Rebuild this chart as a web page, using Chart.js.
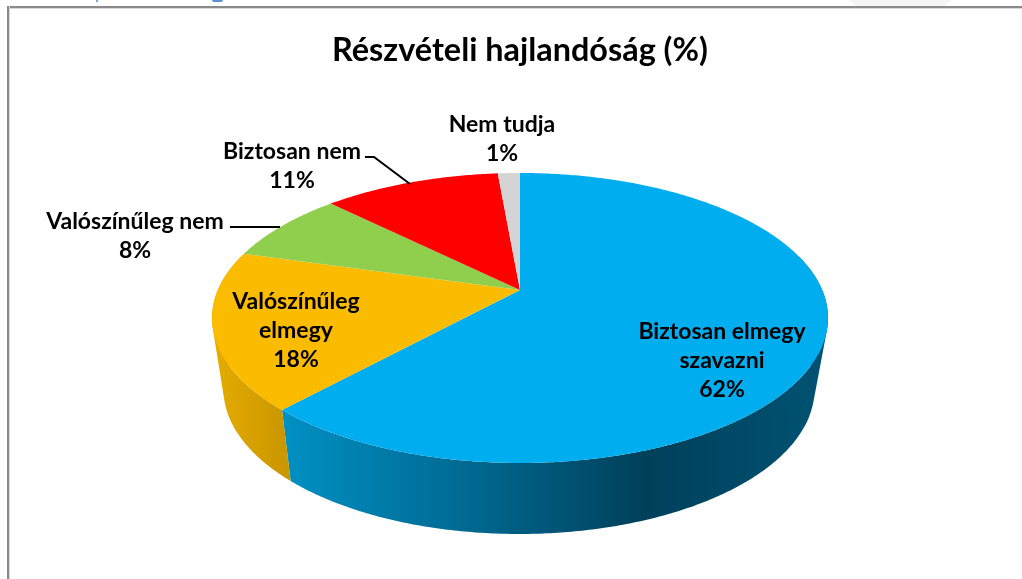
<!DOCTYPE html>
<html lang="hu">
<head>
<meta charset="utf-8">
<title>Részvételi hajlandóság (%)</title>
<script src="https://cdn.jsdelivr.net/npm/chart.js@4"></script>
<style>
html,body{margin:0;padding:0;background:#fff;overflow:hidden}
#wrap{position:relative;width:1022px;height:579px}
#frameTop{position:absolute;left:7px;top:6px;width:1015px;height:2px;background:#8a8a8a;box-shadow:0 1px 0 #d8d8d8}
#frameLeft{position:absolute;left:7px;top:6px;width:2px;height:573px;background:#8a8a8a;box-shadow:1px 0 0 #d8d8d8}
#shade{position:absolute;left:848px;top:0;width:104px;height:6px;background:#f4f4f4;clip-path:polygon(0 0,100% 0,92% 100%,8% 100%)}
#mark1{position:absolute;left:96px;top:0;width:2px;height:2px;background:#7aa7d8}
#mark2{position:absolute;left:212px;top:0;width:11px;height:2px;background:#5b93d0;border-radius:0 0 5px 5px}
canvas{position:absolute;left:0;top:0}
</style>
</head>
<body>
<div id="wrap">
<canvas id="c" width="1022" height="579"></canvas>
<div id="shade"></div><div id="mark1"></div><div id="mark2"></div>
<div id="frameTop"></div><div id="frameLeft"></div>
</div>
<script>
const chartTitle = "Részvételi hajlandóság (%)";
const categories = ["Biztosan elmegy szavazni", "Valószínűleg elmegy", "Valószínűleg nem", "Biztosan nem", "Nem tudja"];
const values = [61.8, 17.6, 8.0, 11.2, 1.4];
const sliceColors = ["#00AEEF", "#FBBC00", "#90CF4E", "#FF0000", "#D4D4D4"];
const categoryLines = [["Biztosan elmegy", "szavazni"], ["Valószínűleg", "elmegy"], ["Valószínűleg nem"], ["Biztosan nem"], ["Nem tudja"]];

const FONT = '"Lato","Carlito","Open Sans",sans-serif';
const labelCentres = [[722, 332], [296, 302], [135, 222], [292, 152], [502, 125]];
const LINE_STEP = 29;
const leaders = [null, null, [[230, 227], [280, 227]], [[365, 157], [374, 157], [410, 184]], null];

const topFace = {cx: 520, cy: 290, A: 302.2, B: 139.6, k: 0.193};
const baseFace = {cx: 519, cy: 361, A: 290, B: 139.6, k: 0.193};
const wallStops = [
  [{x: 284, c: "#0090C4"}, {x: 450, c: "#006D96"}, {x: 645, c: "#00405A"}, {x: 820, c: "#005272"}],
  [{x: 212, c: "#E6AC00"}, {x: 289, c: "#C99600"}]
];

function project(f, a) {
  const u = Math.cos(a), v = Math.sin(a), w = 1 - f.k * v;
  return [f.cx + f.A * u / w, f.cy + f.B * v / w];
}
function gradient(ctx, stops) {
  const x0 = stops[0].x, x1 = stops[stops.length - 1].x;
  const g = ctx.createLinearGradient(x0, 0, x1, 0);
  stops.forEach(s => g.addColorStop((s.x - x0) / (x1 - x0), s.c));
  return g;
}
function signedArea(p) {
  let a = 0;
  p.forEach((q, i) => { const r = p[(i + 1) % p.length]; a += q[0] * r[1] - r[0] * q[1]; });
  return a;
}
const pie3d = {
  id: "pie3d",
  beforeDatasetsDraw(chart) {
    const ctx = chart.ctx, arcs = chart.getDatasetMeta(0).data;
    ctx.save();
    arcs.forEach((arc, i) => {
      const {startAngle: s, endAngle: e} = arc.getProps(["startAngle", "endAngle"], true);
      if (!wallStops[i]) return;
      ctx.fillStyle = gradient(ctx, wallStops[i]);
      const n = Math.ceil((e - s) / 0.01);
      ctx.beginPath();
      for (let j = 0; j < n; j++) {
        const a0 = s + (e - s) * j / n, a1 = s + (e - s) * (j + 1) / n;
        if (Math.sin((a0 + a1) / 2) < -0.25) continue;
        let p = [project(topFace, a0), project(topFace, a1), project(baseFace, a1), project(baseFace, a0)];
        if (signedArea(p) < 0) p = p.reverse();
        ctx.moveTo(p[0][0], p[0][1]);
        p.slice(1).forEach(q => ctx.lineTo(q[0], q[1]));
        ctx.closePath();
      }
      ctx.fill("nonzero");
    });
    arcs.forEach((arc, i) => {
      const {startAngle: s, endAngle: e} = arc.getProps(["startAngle", "endAngle"], true);
      ctx.fillStyle = sliceColors[i];
      ctx.beginPath();
      ctx.moveTo(topFace.cx, topFace.cy);
      const n = Math.ceil((e - s) / 0.01);
      for (let j = 0; j <= n; j++) {
        const p = project(topFace, s + (e - s) * j / n);
        ctx.lineTo(p[0], p[1]);
      }
      ctx.closePath(); ctx.fill();
    });
    ctx.restore();
    return false;
  },
  afterDraw(chart) {
    const ctx = chart.ctx;
    ctx.save();
    ctx.strokeStyle = "#000"; ctx.lineWidth = 2;
    leaders.forEach(l => {
      if (!l) return;
      ctx.beginPath();
      l.forEach((p, j) => j ? ctx.lineTo(p[0], p[1]) : ctx.moveTo(p[0], p[1]));
      ctx.stroke();
    });
    ctx.fillStyle = "#000";
    ctx.font = "bold 23px " + FONT;
    ctx.textAlign = "center"; ctx.textBaseline = "middle";
    values.forEach((v, i) => {
      const lines = categoryLines[i].concat(Math.round(v) + "%");
      lines.forEach((t, j) => ctx.fillText(t, labelCentres[i][0], labelCentres[i][1] + j * LINE_STEP));
    });
    ctx.restore();
  }
};
new Chart(document.getElementById("c"), {
  type: "pie",
  data: {labels: categories, datasets: [{data: values, backgroundColor: sliceColors, borderWidth: 0}]},
  plugins: [pie3d],
  options: {
    responsive: false, animation: false,
    layout: {padding: {left: 18}},
    plugins: {
      legend: {display: false}, tooltip: {enabled: false},
      title: {display: true, text: chartTitle, color: "#000", align: "center",
        font: {family: FONT, size: 32.4, weight: "bold"}, padding: {top: 31, bottom: 10}}
    }
  }
});
</script>
</body>
</html>
